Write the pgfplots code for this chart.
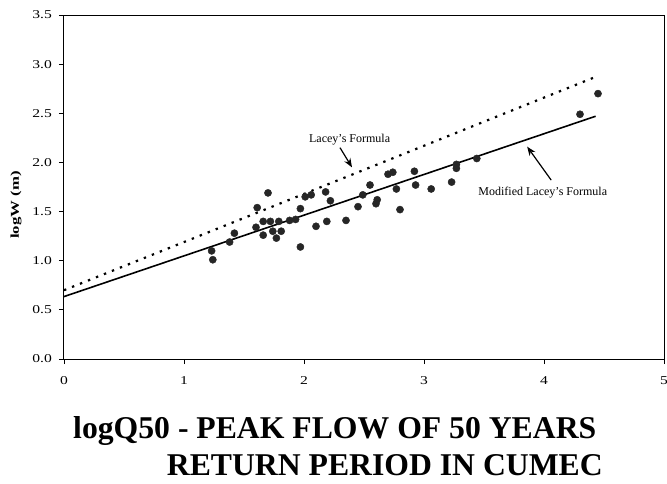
\documentclass[border=0pt]{standalone}
\usepackage{fontspec}
\setmainfont{Liberation Serif}
\usepackage{graphicx}
\usepackage{pgfplots}
\usepackage{pgfplotstable}
\pgfplotsset{compat=1.18}
\usetikzlibrary{arrows.meta}
\pgfplotstableread{
x y
1.23 1.10
1.24 1.01
1.38 1.19
1.42 1.28
1.60 1.34
1.61 1.54
1.66 1.26
1.66 1.40
1.70 1.69
1.72 1.40
1.74 1.30
1.77 1.23
1.79 1.40
1.81 1.30
1.88 1.41
1.93 1.42
1.97 1.53
1.97 1.14
2.01 1.65
2.06 1.67
2.10 1.35
2.18 1.70
2.19 1.40
2.22 1.61
2.35 1.41
2.45 1.55
2.49 1.67
2.55 1.77
2.61 1.62
2.60 1.58
2.70 1.88
2.74 1.90
2.77 1.73
2.80 1.52
2.92 1.91
2.93 1.77
3.06 1.73
3.23 1.80
3.27 1.94
3.27 1.98
3.44 2.04
4.30 2.49
4.45 2.70
}\obs
\pgfplotstableread{
x y
0 0.70
4.45 2.88
}\lacey
\pgfplotstableread{
x y
0 0.635
4.43 2.47
}\modlacey
\begin{document}
\begin{tikzpicture}[x=1pt,y=1pt]
\path[use as bounding box] (0,0) rectangle (667,483);
\begin{axis}[
  at={(64pt,124pt)}, anchor=south west,
  width=600pt, height=344pt, scale only axis,
  xmin=0, xmax=5, ymin=0, ymax=3.5,
  xtick={0,1,2,3,4,5}, ytick={0,0.5,...,3.5},
  xtick pos=lower, ytick pos=left,
  yticklabel style={/pgf/number format/fixed, /pgf/number format/fixed zerofill, /pgf/number format/precision=1},
  /pgf/number format/assume math mode=true,
  tick align=outside, major tick length=5pt,
  tick style={black, line width=0.8pt},
  axis line style={line width=1pt},
  every tick label/.append style={font=\fontsize{12}{14}\selectfont, xscale=1.3},
  xticklabel style={yshift=-9pt},
  yticklabel style={xshift=-2pt},
  clip=false,
]
\addplot[black, line width=2.2pt, dash pattern=on 2.4pt off 6.2pt] table[x=x,y=y] {\lacey};
\addplot[black, line width=1.6pt] table[x=x,y=y] {\modlacey};
\addplot[only marks, mark=*, mark size=3.6pt, black!85, mark options={fill=black!85, draw=black!85}] table[x=x,y=y] {\obs};
\node[font=\fontsize{12}{14}\selectfont] at (axis cs:2.38,2.23) {Lacey's Formula};
\draw[-{Stealth[length=9pt,width=7pt]}, line width=1.2pt] (axis cs:2.30,2.15) -- (axis cs:2.40,1.95);
\node[font=\fontsize{12}{14}\selectfont] at (axis cs:3.99,1.69) {Modified Lacey's Formula};
\draw[-{Stealth[length=9pt,width=7pt]}, line width=1.2pt] (axis cs:4.06,1.82) -- (axis cs:3.86,2.16);
\end{axis}
\node[rotate=90, font=\fontsize{12}{14}\selectfont\bfseries] at (16,278) {\scalebox{1.4}[1]{logW (m)}};
\node[anchor=base west, inner sep=0pt, font=\fontsize{31.7}{37}\selectfont\bfseries] at (73,45) {logQ50 - PEAK FLOW OF 50 YEARS};
\node[anchor=base east, inner sep=0pt, font=\fontsize{31.7}{37}\selectfont\bfseries] at (603,8) {RETURN PERIOD IN CUMEC};
\end{tikzpicture}
\end{document}
